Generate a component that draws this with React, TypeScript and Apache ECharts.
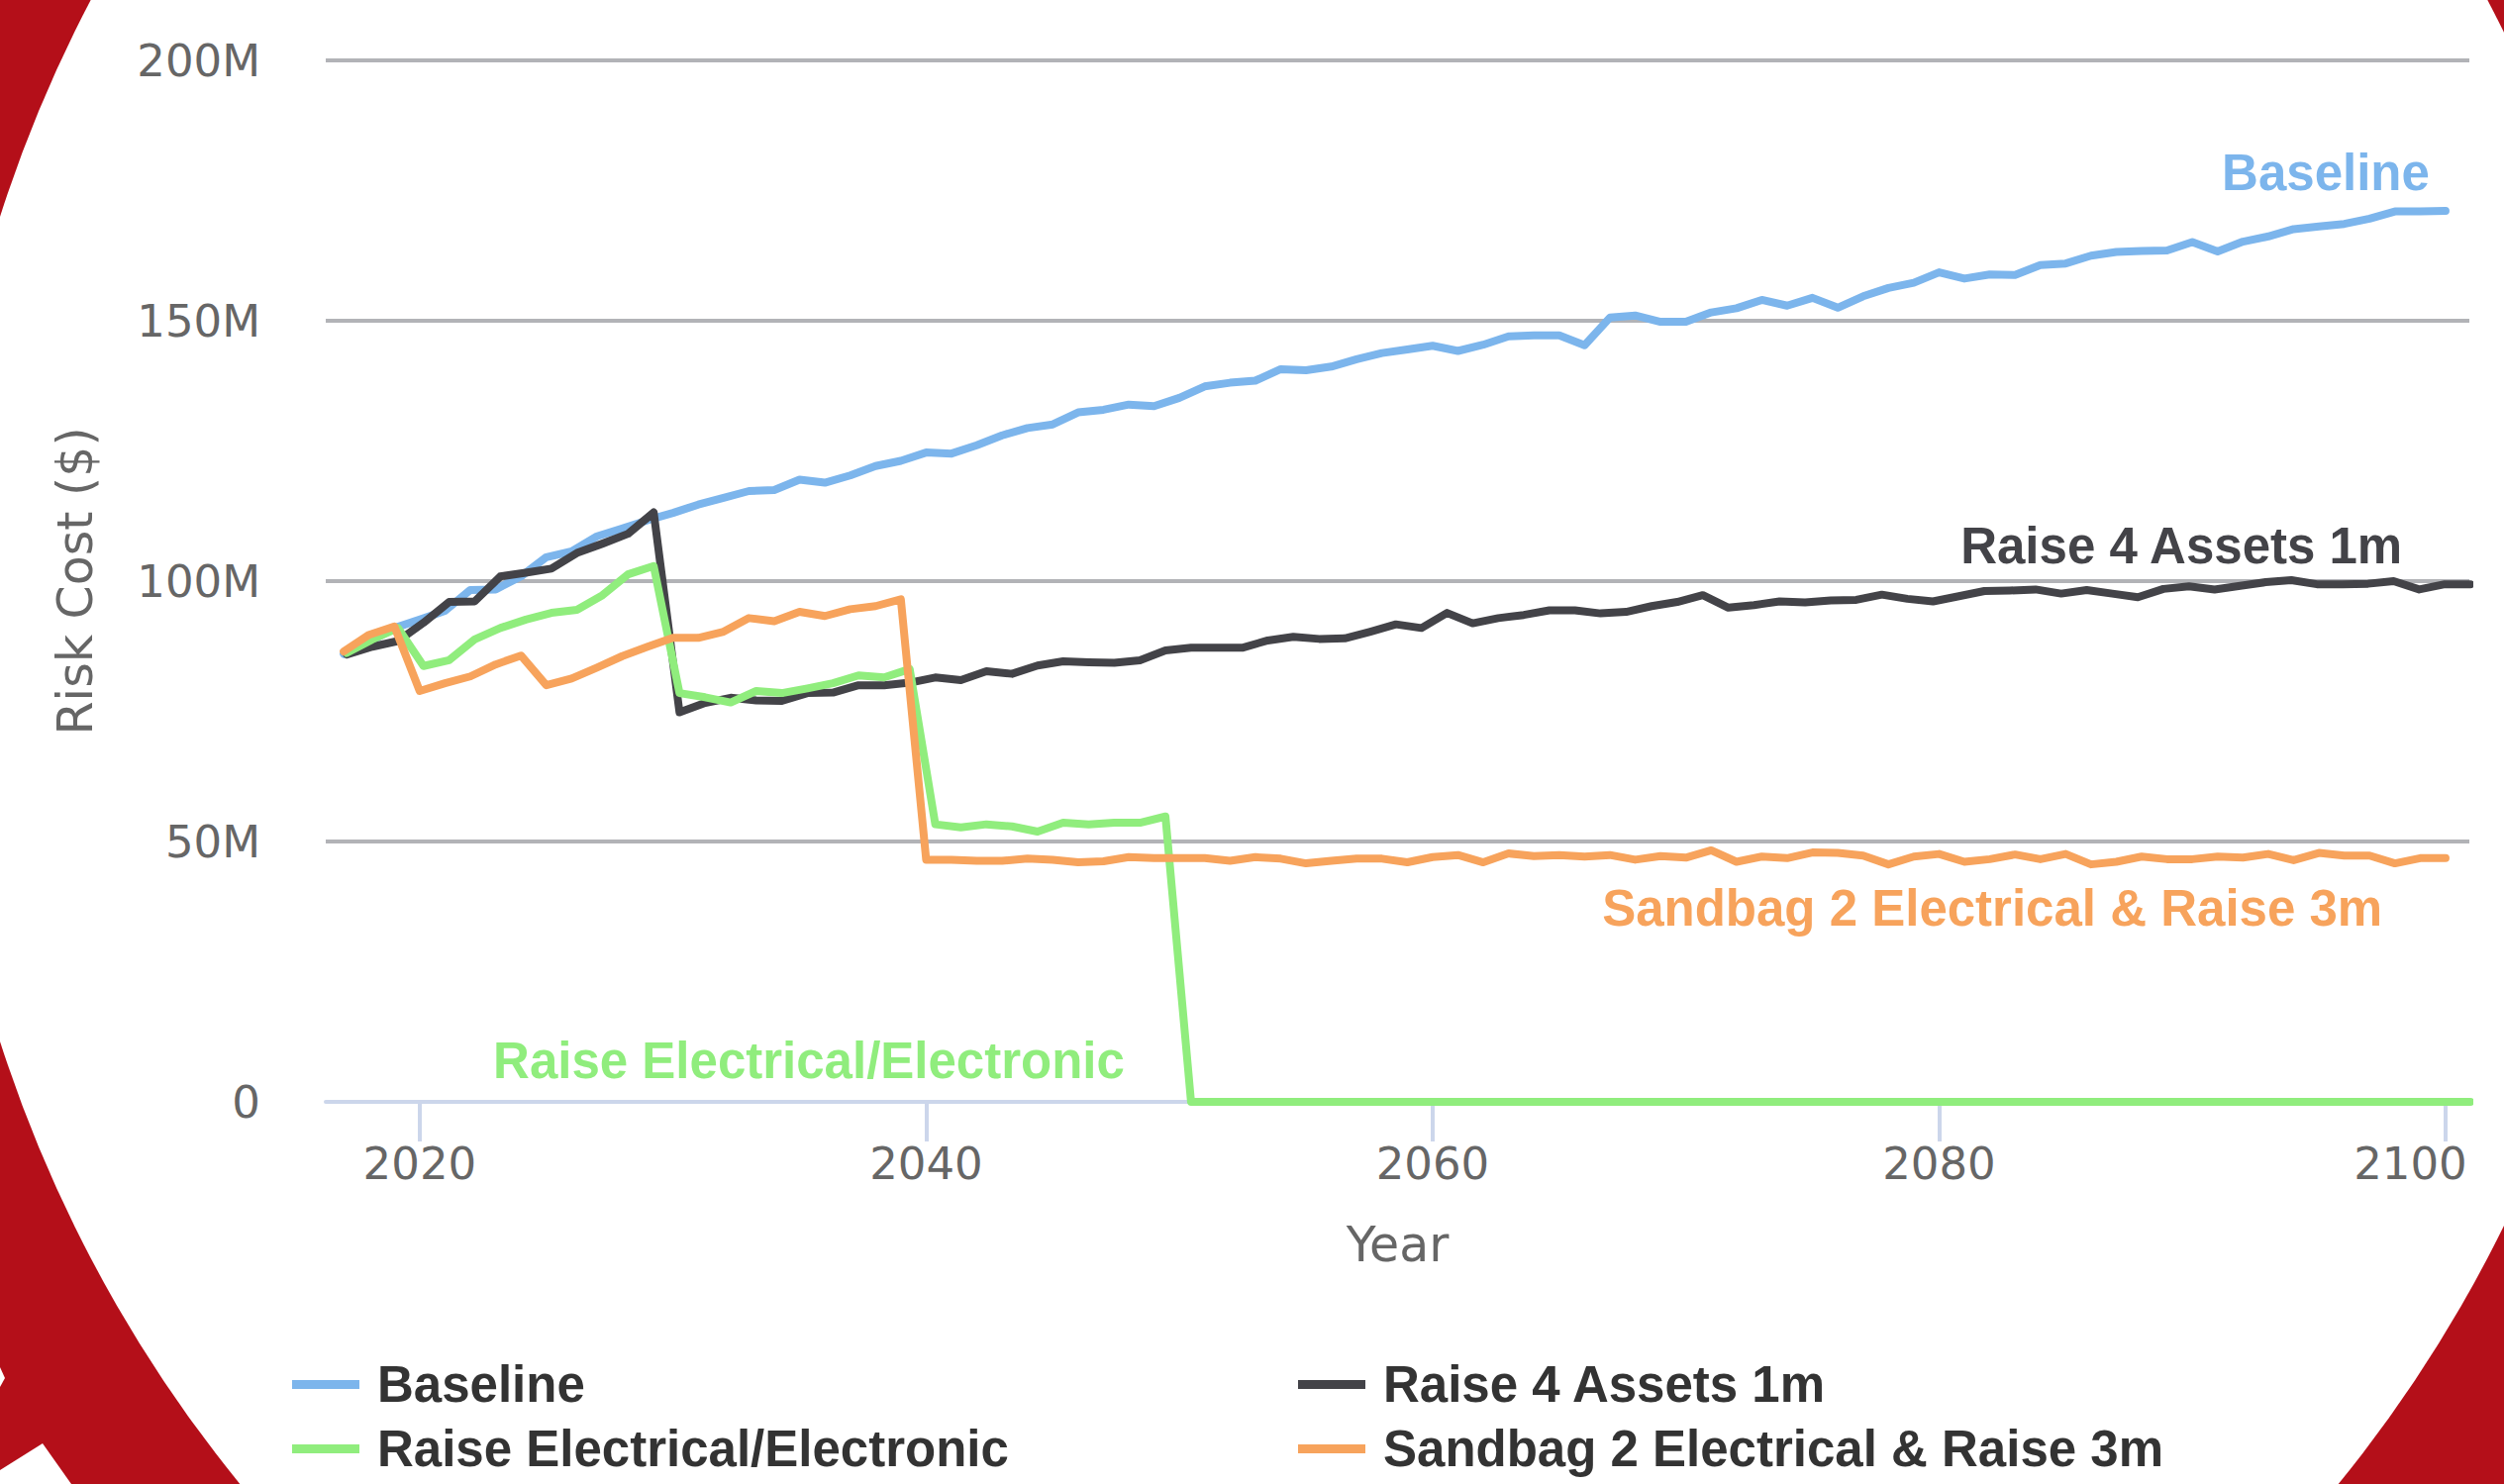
import React, { useEffect, useRef } from 'react';
import * as echarts from 'echarts';

// x positions (years) for Baseline and Sandbag series
const years: number[] = Array.from({ length: 84 }, (_, i) => 2017 + i);
// x positions for Raise 4 Assets and Raise Electrical series (slightly stretched)
const altYears: number[] = [
  2017.12, 2018.13, 2019.14, 2020.15, 2021.16, 2022.17, 2023.18, 2024.19, 2025.2, 2026.21,
  2027.22, 2028.23, 2029.24, 2030.26, 2031.27, 2032.28, 2033.29, 2034.3, 2035.31, 2036.32,
  2037.33, 2038.34, 2039.35, 2040.36, 2041.37, 2042.38, 2043.39, 2044.4, 2045.41, 2046.42,
  2047.43, 2048.44, 2049.45, 2050.46, 2051.47, 2052.48, 2053.49, 2054.5, 2055.52, 2056.53,
  2057.54, 2058.55, 2059.56, 2060.57, 2061.58, 2062.59, 2063.6, 2064.61, 2065.62, 2066.63,
  2067.64, 2068.65, 2069.66, 2070.67, 2071.68, 2072.69, 2073.7, 2074.71, 2075.72, 2076.73,
  2077.74, 2078.75, 2079.76, 2080.78, 2081.79, 2082.8, 2083.81, 2084.82, 2085.83, 2086.84,
  2087.85, 2088.86, 2089.87, 2090.88, 2091.89, 2092.9, 2093.91, 2094.92, 2095.93, 2096.94,
  2097.95, 2098.96, 2099.97, 2100.98,
];

// values in millions of dollars
const baseline: number[] = [
  86.0, 88.3, 91.0, 92.6, 94.3, 98.3, 98.4, 100.9, 104.6, 105.7,
  108.6, 110.1, 111.7, 113.1, 114.7, 116.0, 117.3, 117.5, 119.5, 118.9,
  120.3, 122.1, 123.1, 124.7, 124.5, 126.1, 128.0, 129.4, 130.1, 132.4,
  132.9, 133.9, 133.6, 135.2, 137.4, 138.1, 138.5, 140.7, 140.5, 141.2,
  142.6, 143.8, 144.5, 145.2, 144.2, 145.4, 147.0, 147.2, 147.2, 145.3,
  150.6, 151.0, 149.8, 149.8, 151.6, 152.4, 154.0, 152.9, 154.4, 152.5,
  154.7, 156.3, 157.3, 159.3, 158.1, 158.9, 158.8, 160.7, 161.0, 162.5,
  163.2, 163.4, 163.5, 165.1, 163.3, 165.2, 166.2, 167.6, 168.1, 168.6,
  169.6, 171.0, 171.0, 171.1,
];

const raise4Assets: number[] = [
  85.9, 87.4, 88.5, 92.0, 96.0, 96.1, 100.9, 101.6, 102.4, 105.4,
  107.2, 109.1, 113.2, 74.8, 76.6, 77.6, 77.1, 77.0, 78.5, 78.6,
  80.0, 80.0, 80.5, 81.5, 81.0, 82.7, 82.2, 83.8, 84.6, 84.4,
  84.3, 84.8, 86.7, 87.2, 87.2, 87.2, 88.6, 89.3, 88.9, 89.0,
  90.3, 91.7, 91.0, 93.9, 91.9, 92.9, 93.5, 94.4, 94.4, 93.8,
  94.1, 95.2, 96.0, 97.3, 94.9, 95.4, 96.1, 95.9, 96.3, 96.4,
  97.4, 96.6, 96.1, 97.1, 98.1, 98.2, 98.4, 97.6, 98.3, 97.6,
  96.9, 98.5, 99.0, 98.4, 99.1, 99.8, 100.2, 99.4, 99.4, 99.5,
  100.0, 98.4, 99.4, 99.4,
];

const raiseElectrical: number[] = [
  86.2, 88.8, 91.0, 83.7, 84.8, 88.8, 91.0, 92.6, 93.9, 94.5,
  97.3, 101.3, 102.9, 78.5, 77.7, 76.7, 78.9, 78.5, 79.4, 80.4,
  81.9, 81.5, 83.1, 53.3, 52.7, 53.3, 52.9, 51.9, 53.6, 53.3,
  53.6, 53.6, 54.8, 0, 0, 0, 0, 0, 0, 0,
  0, 0, 0, 0, 0, 0, 0, 0, 0, 0,
  0, 0, 0, 0, 0, 0, 0, 0, 0, 0,
  0, 0, 0, 0, 0, 0, 0, 0, 0, 0,
  0, 0, 0, 0, 0, 0, 0, 0, 0, 0,
  0, 0, 0, 0,
];

const sandbag: number[] = [
  86.5, 89.7, 91.3, 78.9, 80.4, 81.7, 84.0, 85.7, 80.0, 81.3,
  83.4, 85.6, 87.4, 89.1, 89.1, 90.3, 92.9, 92.3, 94.1, 93.3,
  94.6, 95.2, 96.5, 46.5, 46.5, 46.3, 46.3, 46.7, 46.5, 46.0,
  46.2, 47.0, 46.8, 46.8, 46.8, 46.3, 47.0, 46.7, 45.8, 46.3,
  46.7, 46.7, 46.0, 47.0, 47.4, 46.0, 47.7, 47.2, 47.4, 47.1,
  47.4, 46.5, 47.2, 46.9, 48.3, 46.1, 47.1, 46.8, 47.9, 47.8,
  47.3, 45.6, 47.1, 47.6, 46.1, 46.6, 47.5, 46.6, 47.6, 45.6,
  46.1, 47.1, 46.6, 46.6, 47.1, 46.9, 47.6, 46.4, 47.8, 47.3,
  47.3, 45.8, 46.8, 46.8,
];

const seriesNames = [
  'Baseline',
  'Raise 4 Assets 1m',
  'Raise Electrical/Electronic',
  'Sandbag 2 Electrical & Raise 3m',
];
const seriesColors = ['#7cb5ec', '#434348', '#90ed7d', '#f7a35c'];
const xTicks = [2020, 2040, 2060, 2080, 2100];
// in-chart series label anchor positions (data coordinates: year, $M)
const labelAnchors: number[][] = [
  [2095.27, 178.4],
  [2089.57, 106.7],
  [2035.37, 7.9],
  [2082.1, 37.1],
];

const seriesValues = [baseline, raise4Assets, raiseElectrical, sandbag];
const seriesXs = [years, altYears, altYears, years];

const AXIS_FONT = 'DejaVu Sans';
const BOLD_FONT = 'Liberation Sans';

export default function App() {
  const ref = useRef<HTMLDivElement>(null);

  useEffect(() => {
    if (!ref.current) return;
    const chart = echarts.init(ref.current, undefined, { renderer: 'svg' });

    const series = seriesNames.map((name, i) => ({
      name,
      type: 'line',
      data: seriesValues[i].map((v, j) => [seriesXs[i][j], v]),
      symbol: 'none',
      showSymbol: false,
      z: 2 + i,
      lineStyle: { color: seriesColors[i], width: 8, join: 'round', cap: 'round' },
      itemStyle: { color: seriesColors[i] },
      markPoint: {
        silent: true,
        symbol: 'circle',
        symbolSize: 1,
        itemStyle: { color: 'rgba(0,0,0,0)' },
        label: {
          show: true,
          position: 'inside',
          formatter: () => name,
          color: seriesColors[i],
          fontSize: 51,
          fontWeight: 'bold',
          fontFamily: BOLD_FONT,
        },
        data: [{ name, coord: labelAnchors[i] }],
      },
    }));

    const legendText = {
      fontSize: 51,
      fontWeight: 'bold',
      fontFamily: BOLD_FONT,
      color: '#333333',
      lineHeight: 50,
      padding: [0, 0, 0, 13],
    };

    const tickLabelStyle = {
      color: '#666666',
      fontSize: 45,
      lineHeight: 45,
      fontFamily: AXIS_FONT,
    };

    chart.setOption({
      animation: false,
      backgroundColor: 'transparent',
      graphic: {
        elements: [
          {
            type: 'rect',
            silent: true,
            z: -10,
            shape: { x: 0, y: 0, width: 2529, height: 1499 },
            style: { fill: '#b40f19' },
          },
          {
            type: 'circle',
            silent: true,
            z: -9,
            shape: { cx: 1302, cy: 635.5, r: 1367 },
            style: { fill: '#ffffff' },
          },
          {
            type: 'polygon',
            silent: true,
            z: -9,
            shape: { points: [[0, 1485], [43, 1458], [72, 1499], [0, 1499]] },
            style: { fill: '#ffffff' },
          },
          {
            type: 'polygon',
            silent: true,
            z: -9,
            shape: { points: [[0, 1381], [5, 1392], [0, 1401]] },
            style: { fill: '#ffffff' },
          },
        ],
      },
      grid: { left: 329, right: 35, top: 61, bottom: 386, containLabel: false, outerBoundsMode: 'none' },
      legend: [
        {
          data: [seriesNames[0], seriesNames[2]],
          orient: 'vertical',
          left: 290,
          top: 1368,
          itemWidth: 68,
          itemHeight: 9,
          itemGap: 14,
          icon: 'rect',
          textStyle: legendText,
        },
        {
          data: [seriesNames[1], seriesNames[3]],
          orient: 'vertical',
          left: 1306,
          top: 1368,
          itemWidth: 68,
          itemHeight: 9,
          itemGap: 14,
          icon: 'rect',
          textStyle: legendText,
        },
      ],
      xAxis: {
        type: 'value',
        min: 2016.29,
        max: 2100.94,
        z: 1,
        name: 'Year',
        nameLocation: 'middle',
        nameGap: 120,
        nameTextStyle: { color: '#666666', fontSize: 49, fontFamily: AXIS_FONT, lineHeight: 49 },
        axisLine: { show: true, lineStyle: { color: '#ccd6eb', width: 4 } },
        axisTick: { show: true, customValues: xTicks, length: 40, lineStyle: { color: '#ccd6eb', width: 4 } },
        axisLabel: {
          customValues: xTicks,
          formatter: (v: number) => (v === xTicks[xTicks.length - 1] ? '{last|' + v + '}' : String(v)),
          ...tickLabelStyle,
          margin: 40,
          rich: {
            last: { ...tickLabelStyle, padding: [0, 71, 0, 0] },
          },
        },
        splitLine: { show: false },
      },
      yAxis: {
        type: 'value',
        min: 0,
        max: 200,
        interval: 50,
        z: 0,
        name: 'Risk Cost ($)',
        nameLocation: 'middle',
        nameGap: 228,
        nameTextStyle: { color: '#666666', fontSize: 49, fontFamily: AXIS_FONT, lineHeight: 49 },
        axisLine: { show: false },
        axisTick: { show: false },
        axisLabel: {
          formatter: (v: number) => (v === 0 ? '0' : v + 'M'),
          color: '#666666',
          fontSize: 45,
          fontFamily: AXIS_FONT,
          margin: 66,
        },
        splitLine: { show: true, lineStyle: { color: '#b2b3b7', width: 4 } },
      },
      series,
    });

    return () => {
      chart.dispose();
    };
  }, []);

  return (
    <div
      ref={ref}
      style={{ position: 'absolute', left: 0, top: 0, width: 2529, height: 1499, background: '#ffffff' }}
    />
  );
}
